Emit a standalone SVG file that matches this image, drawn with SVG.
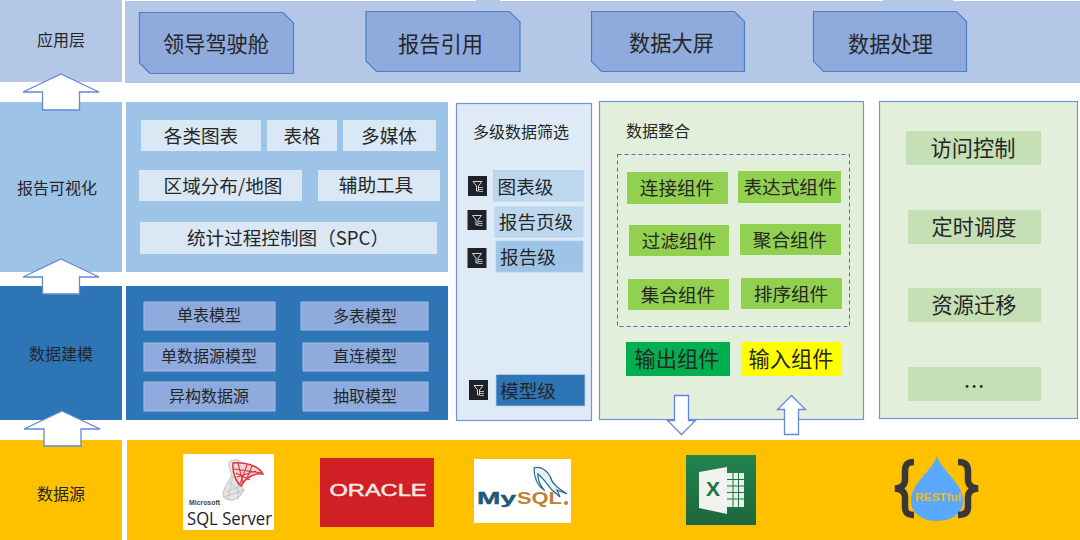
<svg xmlns="http://www.w3.org/2000/svg" xmlns:xlink="http://www.w3.org/1999/xlink" width="1080" height="540" viewBox="0 0 1080 540">
<style>
text{font-family:"Noto Sans CJK SC","Noto Sans",sans-serif;fill:#262626;text-anchor:middle;dominant-baseline:central}
.s16{font-size:16px}.s18{font-size:18.600px}.s21{font-size:21.200px}
.tab{fill:#8faadc;stroke:#4f7ec9;stroke-width:1.200}
.lb{fill:#dae8f5}.mb{fill:#8faadc;stroke:#a4bde4;stroke-width:1}
.gb{fill:#92d050}.rb{fill:#c5e0b4}
.ar{fill:#fff;stroke:#6288d6;stroke-width:1.300}
.lat{font-family:"Liberation Sans",sans-serif}
.fb{stroke:#b5d0ea;stroke-width:.8}
</style>
<defs>
<g id="filter-icon"><rect width="19" height="20" fill="#1e2127"/><path d="M5 5.500H14L10.500 10V15H8.500V10Z" fill="none" stroke="#d6d6d6" stroke-width="1"/><path d="M11 11.500h4M11 13.500h4M11 15.500h4" stroke="#d6d6d6" stroke-width=".8"/></g>
<linearGradient id="xl" x1="0" y1="0" x2="0" y2="1"><stop offset="0" stop-color="#23834f"/><stop offset="1" stop-color="#1c673b"/></linearGradient>
</defs>
<rect width="1080" height="540" fill="#fff"/>
<g id="layer-app"><rect x="0" y="0" width="122" height="82" fill="#b4c7e7"/><text x="61" y="38.500" class="s16">应用层</text>
<rect x="125" y="1" width="955" height="82" fill="#b4c7e7"/><rect x="476" y="0" width="24" height="1" fill="#b4c7e7"/><rect x="883" y="0" width="70" height="1" fill="#b4c7e7"/></g>
<g id="layer-report"><rect x="0" y="102" width="122" height="170" fill="#9dc3e6"/><text x="57" y="187" class="s16">报告可视化</text>
<rect x="126" y="102" width="322" height="170" fill="#9dc3e6"/></g>
<g id="layer-model"><rect x="0" y="286" width="122" height="134" fill="#2e75b6"/><text x="61" y="353" class="s16">数据建模</text>
<rect x="126" y="286" width="322" height="134" fill="#2e75b6"/></g>
<g id="layer-source"><rect x="0" y="440" width="122" height="100" fill="#ffc000"/><text x="61" y="493" class="s16">数据源</text>
<rect x="127" y="440" width="953" height="100" fill="#ffc000"/></g>

<g id="app-cockpit"><path class="tab" d="M139.500 12.500H283L293.500 23V73.500H150L139.500 63Z"/><text x="216" y="42" class="s21">领导驾驶舱</text></g>
<g id="app-ref"><path class="tab" d="M366 11.500H509.500L520 22V71.500H376.500L366 61Z"/><text x="440.500" y="42" class="s21">报告引用</text></g>
<g id="app-screen"><path class="tab" d="M591.500 11.500H734.500L744.500 21.500V71.500H601.500L591.500 61.500Z"/><text x="671.500" y="41.500" class="s21">数据大屏</text></g>
<g id="app-proc"><path class="tab" d="M813.500 11.500H956.500L966.500 21.500V71.500H823.500L813.500 61.500Z"/><text x="890.500" y="42.500" class="s21">数据处理</text></g>

<g id="v1"><rect class="lb" x="141" y="120" width="120" height="31"/><text x="201" y="134" class="s18">各类图表</text></g>
<g id="v2"><rect class="lb" x="267" y="120" width="70" height="31"/><text x="302" y="134" class="s18">表格</text></g>
<g id="v3"><rect class="lb" x="343" y="120" width="93" height="31"/><text x="389" y="134" class="s18">多媒体</text></g>
<g id="v4"><rect class="lb" x="139" y="170" width="163" height="31"/><text x="223" y="184" class="s18">区域分布/地图</text></g>
<g id="v5"><rect class="lb" x="318" y="170" width="122" height="31"/><text x="376" y="183" class="s18">辅助工具</text></g>
<g id="v6"><rect class="lb" x="140" y="222" width="297" height="32"/><text x="288" y="236" class="s18">统计过程控制图（SPC）</text></g>

<g id="m1"><rect class="mb" x="144" y="302" width="131" height="28"/><text x="209" y="314" class="s16">单表模型</text></g>
<g id="m2"><rect class="mb" x="301" y="302" width="127" height="28"/><text x="365" y="315" class="s16">多表模型</text></g>
<g id="m3"><rect class="mb" x="144" y="343" width="131" height="28"/><text x="209" y="355" class="s16">单数据源模型</text></g>
<g id="m4"><rect class="mb" x="303" y="343" width="125" height="28"/><text x="365" y="355" class="s16">直连模型</text></g>
<g id="m5"><rect class="mb" x="144" y="382" width="131" height="29"/><text x="209" y="395" class="s16">异构数据源</text></g>
<g id="m6"><rect class="mb" x="303" y="382" width="125" height="29"/><text x="365" y="395" class="s16">抽取模型</text></g>

<g id="filter"><rect x="456.500" y="103.500" width="135" height="317" fill="#deebf7" stroke="#6f94d8" stroke-width="1.200"/><text x="521" y="131" class="s16">多级数据筛选</text>
<use href="#filter-icon" xlink:href="#filter-icon" x="468" y="176"/>
<rect class="fb" x="493.500" y="170.500" width="90" height="30.500" fill="#bdd7ee"/><text x="525.500" y="185" class="s18">图表级</text>
<use href="#filter-icon" xlink:href="#filter-icon" x="467.500" y="210"/>
<rect class="fb" x="495" y="207" width="88" height="30" fill="#bdd7ee"/><text x="536" y="220" class="s18">报告页级</text>
<use href="#filter-icon" xlink:href="#filter-icon" x="467.500" y="248"/>
<rect class="fb" x="496" y="241" width="87" height="31" fill="#9dc3e6"/><text x="528" y="255" class="s18">报告级</text>
<use href="#filter-icon" xlink:href="#filter-icon" x="469" y="380"/>
<rect class="fb" x="496" y="374.500" width="89" height="31.500" fill="#2e75b6"/><text x="528" y="389" class="s18">模型级</text></g>

<g id="integrate"><rect x="599.500" y="101.500" width="264" height="318" fill="#e2efda" stroke="#6f94d8" stroke-width="1.200"/><text x="658" y="130" class="s16">数据整合</text>
<rect x="617.500" y="154.500" width="232" height="172" fill="none" stroke="#4472c4" stroke-width="1" stroke-dasharray="4 3"/></g>
<g id="c1"><rect class="gb" x="627" y="172" width="101" height="32"/><text x="677" y="186" class="s18">连接组件</text></g>
<g id="c2"><rect class="gb" x="738" y="171" width="103" height="32"/><text x="790" y="185" class="s18">表达式组件</text></g>
<g id="c3"><rect class="gb" x="629" y="225" width="100" height="31"/><text x="679" y="239" class="s18">过滤组件</text></g>
<g id="c4"><rect class="gb" x="740" y="224" width="101" height="31"/><text x="790" y="238" class="s18">聚合组件</text></g>
<g id="c5"><rect class="gb" x="628" y="279" width="101" height="31"/><text x="678" y="293" class="s18">集合组件</text></g>
<g id="c6"><rect class="gb" x="741" y="278" width="101" height="31"/><text x="791" y="292" class="s18">排序组件</text></g>
<g id="c7"><rect x="626" y="342" width="104" height="34" fill="#00b050"/><text x="677" y="357" class="s21">输出组件</text></g>
<g id="c8"><rect x="741" y="342" width="101" height="34" fill="#ffff00"/><text x="791" y="357" class="s21">输入组件</text></g>

<g id="ops"><rect x="879.500" y="101.500" width="198" height="317" fill="#e2efda" stroke="#6f94d8" stroke-width="1.200"/></g>
<g id="o1"><rect class="rb" x="906" y="131" width="135" height="34"/><text x="973" y="146" class="s21">访问控制</text></g>
<g id="o2"><rect class="rb" x="908" y="210" width="133" height="34"/><text x="974" y="225" class="s21">定时调度</text></g>
<g id="o3"><rect class="rb" x="908" y="288" width="133" height="34"/><text x="974" y="303" class="s21">资源迁移</text></g>
<g id="o4"><rect class="rb" x="908" y="367" width="133" height="34"/><text x="974" y="384" class="s21">…</text></g>

<g id="logo-sql"><rect x="183" y="454" width="91" height="76" fill="#fff"/>
<path d="M229 462C233 459 240 459 241 463C238 470 240 482 244 490C240 499 232 503 224 498C220 490 230 482 232 474C230 470 228 466 229 462Z" fill="#e4e4e4" stroke="#c4c4c4" stroke-width="1"/>
<path d="M226 492L240 486M224 497L244 490M230 482L241 494M233 476L228 500M238 479L238 499" stroke="#bdbdbd" stroke-width=".8" fill="none"/>
<path d="M233 463C244 462 258 465 263 474C255 473 246 477 241 486C236 482 232 472 233 463Z" fill="#f4d4d4" stroke="#d8393d" stroke-width="1.500"/>
<path d="M234 469L262 473M237 477L256 471M240 484L247 465M238 463L243 483M247 478L252 466M236 473L250 480" stroke="#d8393d" stroke-width="1.100" fill="none"/>
<text class="lat" x="189" y="502" font-size="7.500" font-weight="700" style="text-anchor:start;fill:#444" textLength="31" lengthAdjust="spacingAndGlyphs">Microsoft</text>
<text x="187" y="518" font-size="18" style="font-family:'Open Sans',sans-serif;text-anchor:start;fill:#222" textLength="85" lengthAdjust="spacingAndGlyphs">SQL Server</text></g>
<g id="logo-oracle"><rect x="320" y="458" width="114" height="69" fill="#d11f26"/><text class="lat" x="378" y="490" font-size="17" style="fill:#f6e8e8;stroke:#f6e8e8;stroke-width:.5" textLength="97" lengthAdjust="spacingAndGlyphs">ORACLE</text></g>
<g id="logo-mysql"><rect x="474" y="459" width="97" height="64" fill="#fff"/>
<path d="M534 468C540 466 546 470 550 476C552 484 558 488 567 494L557 490L560 497L552 490C547 484 543 478 538 474C537 482 543 488 544 490C538 486 534 478 534 468Z" fill="#e8f0f4" stroke="#2b6a8c" stroke-width="1.200"/>
<text class="lat" x="477" y="498" font-size="17" font-weight="700" style="text-anchor:start;fill:#1c5a7a;stroke:#1c5a7a;stroke-width:.4" textLength="39" lengthAdjust="spacingAndGlyphs">My</text>
<text class="lat" x="517" y="498" font-size="17" font-weight="700" style="text-anchor:start;fill:#bd7f32" textLength="45" lengthAdjust="spacingAndGlyphs">SQL</text>
<circle cx="566" cy="503" r="2" fill="#bd7f32"/></g>
<g id="logo-excel"><rect x="686" y="455" width="70" height="70" fill="url(#xl)"/>
<path d="M699 472L727 467V514L699 508Z" fill="#f0f2ef"/>
<rect x="727" y="473" width="17" height="34" fill="#e8efe8"/>
<path d="M727 479.500h17M727 486h17M727 492.500h17M727 499h17M733 473v34M738.500 473v34" stroke="#1f7244" stroke-width="1"/>
<text class="lat" x="713" y="488" font-size="21" font-weight="700" style="fill:#1f7244">X</text></g>
<g id="logo-rest"><path d="M937 456C942 472 963 482 963 501C963 514 951 521 937 521C923 521 911 514 911 501C911 482 932 472 937 456Z" fill="#5aa9ff"/>
<path d="M914 462C908 462 905 464 905 471V480C905 485 901 488 895 488.500C901 489 905 492 905 497V507C905 513 908 515 914 515" fill="none" stroke="#383838" stroke-width="6.500"/>
<path d="M958 462C964 462 968 464 968 471V480C968 485 972 488 978 488.500C972 489 968 492 968 497V507C968 513 964 515 958 515" fill="none" stroke="#383838" stroke-width="6.500"/>
<text class="lat" x="938" y="496.500" font-size="11" font-weight="700" style="fill:#f0bb20" textLength="46" lengthAdjust="spacingAndGlyphs">RESTful</text></g>

<g id="connectors">
<path class="ar" d="M61 74L99 92H79.500V110H42.500V92H23Z"/>
<path class="ar" d="M61 259L99 277H79.500V294H42.500V277H23Z"/>
<path class="ar" d="M62 411L100 429H81V446H44V429H24Z"/>
<path class="ar" d="M674.500 395.500H688.500V420.500H695.500L681.500 434.500L667.500 420.500H674.500Z"/>
<path class="ar" d="M784.500 434.500V409.500H777.500L791.500 395.500L805.500 409.500H798.500V434.500Z"/>
</g>
</svg>
